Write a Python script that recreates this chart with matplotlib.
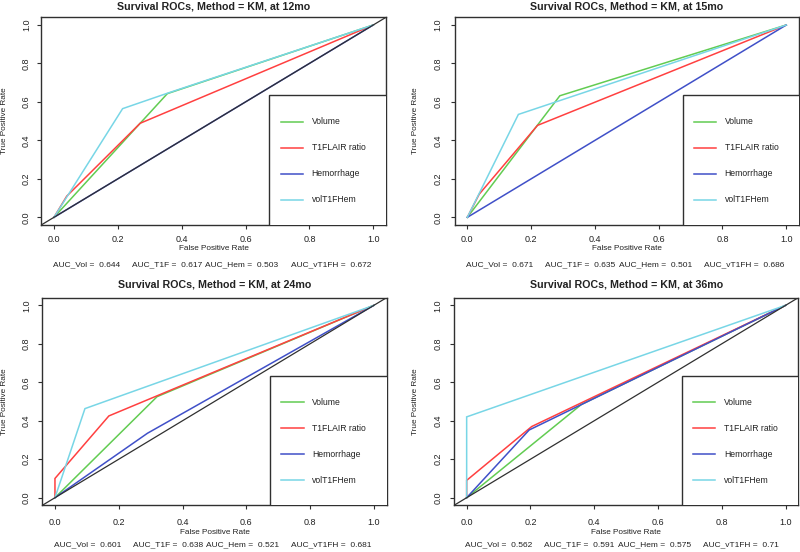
import matplotlib
matplotlib.use("Agg")
import matplotlib.pyplot as plt
from matplotlib.patches import Rectangle

plt.rcParams['font.family'] = ['Liberation Sans', 'DejaVu Sans']

# ROC curves (false positive rate, true positive rate)
months = [12, 15, 24, 36]
series_names = ['Volume', 'T1FLAIR ratio', 'Hemorrhage', 'volT1FHem']
series_colors = ['#62CC52', '#FF4040', '#4050C8', '#78D6E6']

fpr_vol = [[0, 0.355, 1], [0, 0.29, 1], [0, 0.32, 1], [0, 0.36, 1]]
tpr_vol = [[0, 0.643, 1], [0, 0.632, 1], [0, 0.525, 1], [0, 0.485, 1]]
fpr_t1f = [[0, 0.04, 0.27, 1], [0, 0.037, 0.22, 1], [0, 0, 0.169, 1], [0, 0, 0.204, 1]]
tpr_t1f = [[0, 0.11, 0.489, 1], [0, 0.12, 0.478, 1], [0, 0.10, 0.425, 1], [0, 0.09, 0.37, 1]]
fpr_hem = [[0, 1], [0, 1], [0, 0.29, 1], [0, 0.196, 1]]
tpr_hem = [[0, 1], [0, 1], [0, 0.335, 1], [0, 0.352, 1]]
fpr_vt1fh = [[0, 0.215, 0.355, 1], [0, 0.16, 1], [0, 0.094, 1], [0, 0, 1]]
tpr_vt1fh = [[0, 0.565, 0.645, 1], [0, 0.535, 1], [0, 0.463, 1], [0, 0.42, 1]]
show_diagonal = [True, False, True, True]

auc_names = ['AUC_Vol', 'AUC_T1F', 'AUC_Hem', 'AUC_vT1FH']
auc_values = [['0.644', '0.617', '0.503', '0.672'],
              ['0.671', '0.635', '0.501', '0.686'],
              ['0.601', '0.638', '0.521', '0.681'],
              ['0.562', '0.591', '0.575', '0.71']]

ticks = [0.0, 0.2, 0.4, 0.6, 0.8, 1.0]
tick_labels = ['0.0', '0.2', '0.4', '0.6', '0.8', '1.0']

W, H = 800, 552
TXT = '#222222'

# axes boxes in pixels: left, top, right, bottom
boxes = [(41.2, 17.3, 386.0, 225.0),
         (454.6, 17.3, 799.0, 225.0),
         (42.2, 297.6, 386.7, 505.4),
         (453.9, 297.6, 798.4, 505.4)]
title_dy = [11.0, 11.0, 13.0, 13.0]
xlab_dy = [23.3, 23.3, 27.3, 27.3]
auc_dy = [40.0, 40.0, 38.9, 38.9]
ylab_dx = [36.2, 39.6, 37.2, 38.9]
xtick_pad = [4.2, 4.2, 6.3, 6.3]
ytick_pad = [4.3, 5.8, 5.0, 5.1]
auc_offsets = [-0.004, 0.244, 0.474, 0.741]

fig = plt.figure(figsize=(W / 100, H / 100), dpi=100)


def fx(px):
    return px / W


def fy(py):
    return 1 - py / H


for i, (l, t, r, b) in enumerate(boxes):
    ax = fig.add_axes([fx(l), fy(b), fx(r) - fx(l), (b - t) / H])
    ax.set_xlim(-0.04, 1.04)
    ax.set_ylim(-0.04, 1.04)

    curves = [(fpr_vol[i], tpr_vol[i]), (fpr_t1f[i], tpr_t1f[i]),
              (fpr_hem[i], tpr_hem[i]), (fpr_vt1fh[i], tpr_vt1fh[i])]
    for (xs, ys), color in zip(curves, series_colors):
        ax.plot(xs, ys, color=color, lw=1.1, solid_joinstyle='miter')
    if show_diagonal[i]:
        ax.axline((0, 0), slope=1, color='#303030', lw=0.9)

    # legend box anchored to the lower right corner, R style
    ax.add_patch(Rectangle((0.675, -0.2), 1.0, 0.835, facecolor='white',
                           edgecolor='#303030', lw=1.0, zorder=5))
    for k, (name, color) in enumerate(zip(series_names, series_colors)):
        y = 0.496 - k * 0.135
        ax.plot([0.71, 0.78], [y, y], color=color, lw=1.1, zorder=6)
        ax.text(0.807, y, name, fontsize=6.2, color=TXT, va='center', zorder=6)

    ax.set_xticks(ticks)
    ax.set_xticklabels(tick_labels)
    ax.set_yticks(ticks)
    ax.set_yticklabels(tick_labels, rotation=90, va='center')
    ax.tick_params(axis='x', length=3, width=0.8, colors='#303030',
                   labelsize=6.5, labelcolor=TXT, pad=xtick_pad[i])
    ax.tick_params(axis='y', length=3, width=0.8, colors='#303030',
                   labelsize=6.5, labelcolor=TXT, pad=ytick_pad[i])
    for sp in ax.spines.values():
        sp.set_linewidth(1.0)
        sp.set_color('#303030')

    cx = (l + r) / 2
    fig.text(fx(cx), fy(t - title_dy[i]),
             f'Survival ROCs, Method = KM, at {months[i]}mo',
             fontsize=7.7, fontweight='bold', color=TXT, ha='center', va='center')
    fig.text(fx(cx), fy(b + xlab_dy[i]), 'False Positive Rate',
             fontsize=5.9, color=TXT, ha='center', va='center')
    fig.text(fx(l - ylab_dx[i]), fy((t + b) / 2), 'True Positive Rate',
             fontsize=5.9, color=TXT, ha='center', va='center', rotation=90)

    x0 = l + 0.04 * (r - l) / 1.08
    unit = (r - l) / 1.08
    for name, val, off in zip(auc_names, auc_values[i], auc_offsets):
        fig.text(fx(x0 + off * unit), fy(b + auc_dy[i]), f'{name} =  {val}',
                 fontsize=6.0, color=TXT, ha='left', va='center')

fig.savefig('out.png', dpi=100)
